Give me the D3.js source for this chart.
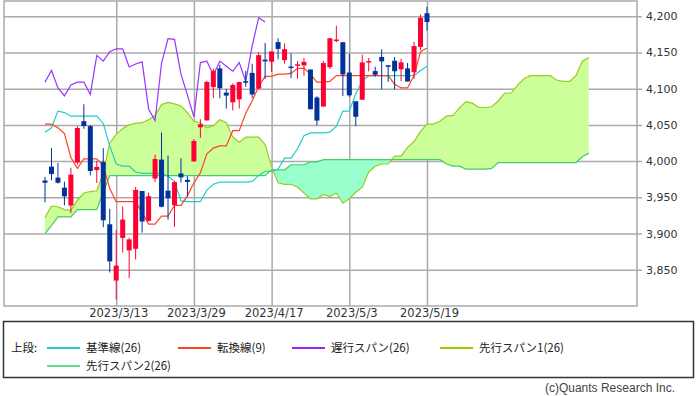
<!DOCTYPE html>
<html>
<head>
<meta charset="utf-8">
<script src="https://cdnjs.cloudflare.com/ajax/libs/d3/7.8.5/d3.min.js"></script>
<style>
  body { margin: 0; background: #fff; }
</style>
</head>
<body>
<svg id="chart" width="697" height="396"></svg>
<script>
// daily bars, 2023/2/24 - 2023/5/19
const dates = ["2023/2/24","2023/2/27","2023/2/28","2023/3/1","2023/3/2","2023/3/3","2023/3/6","2023/3/7","2023/3/8","2023/3/9",
  "2023/3/10","2023/3/13","2023/3/14","2023/3/15","2023/3/16","2023/3/17","2023/3/20","2023/3/21","2023/3/22","2023/3/23",
  "2023/3/24","2023/3/27","2023/3/28","2023/3/29","2023/3/30","2023/3/31","2023/4/3","2023/4/4","2023/4/5","2023/4/6",
  "2023/4/10","2023/4/11","2023/4/12","2023/4/13","2023/4/14","2023/4/17","2023/4/18","2023/4/19","2023/4/20","2023/4/21",
  "2023/4/24","2023/4/25","2023/4/26","2023/4/27","2023/4/28","2023/5/1","2023/5/2","2023/5/3","2023/5/4","2023/5/5",
  "2023/5/8","2023/5/9","2023/5/10","2023/5/11","2023/5/12","2023/5/15","2023/5/16","2023/5/17","2023/5/18","2023/5/19"];

const opens = [3973.24,3992.36,3977.19,3963.34,3938.68,3998.02,4055.15,4048.26,3987.55,3998.66,
  3912.77,3835.12,3894.01,3876.74,3878.93,3958.69,3917.47,3975.89,4002.04,3959.21,
  3939.21,3982.93,3974.13,3999.53,4046.74,4056.18,4102.20,4128.03,4094.50,4081.15,
  4085.20,4110.29,4121.72,4100.04,4140.11,4137.17,4164.26,4139.33,4130.48,4132.14,
  4132.07,4126.43,4087.78,4075.29,4129.63,4166.79,4164.10,4122.25,4082.61,4084.73,
  4136.98,4124.25,4143.74,4132.24,4138.54,4126.65,4127.95,4122.85,4157.68,4204.15];
const highs = [3978.25,4018.05,3997.50,3971.73,3990.84,4048.29,4078.49,4050.00,4000.41,4017.81,
  3934.05,3905.05,3937.29,3894.26,3964.46,3958.91,3956.62,4009.08,4039.49,4007.66,
  3972.74,4003.83,3979.20,4030.59,4057.85,4110.75,4127.66,4133.13,4099.69,4107.32,
  4109.50,4124.26,4134.37,4150.26,4163.19,4151.72,4169.48,4162.57,4148.57,4138.02,
  4142.41,4126.43,4089.67,4138.24,4170.06,4186.92,4164.10,4148.30,4082.61,4147.02,
  4142.30,4130.35,4154.28,4132.80,4143.74,4141.25,4135.54,4164.67,4202.20,4212.91];
const lows = [3943.08,3973.55,3968.98,3939.05,3928.16,3995.17,4044.61,3980.31,3969.76,3908.70,
  3846.32,3808.86,3873.63,3838.24,3864.11,3901.27,3916.89,3971.19,3936.17,3919.05,
  3909.16,3970.49,3951.53,3999.53,4032.10,4056.18,4086.87,4086.87,4072.56,4069.84,
  4072.55,4102.61,4086.94,4099.40,4113.20,4123.18,4140.36,4134.49,4114.57,4113.86,
  4117.77,4071.38,4049.35,4075.29,4127.18,4164.12,4089.72,4088.86,4048.28,4084.73,
  4123.81,4116.65,4098.92,4109.29,4099.12,4110.27,4109.86,4113.62,4153.14,4180.20];
const closes = [3970.04,3982.24,3970.15,3951.39,3981.35,4045.64,4048.42,3986.37,3992.01,3918.32,
  3861.59,3855.76,3919.29,3891.93,3960.28,3916.64,3951.57,4002.87,3936.97,3948.72,
  3970.99,3977.53,3971.27,4027.81,4050.83,4109.31,4124.51,4100.60,4090.38,4105.02,
  4109.11,4108.94,4091.95,4146.22,4137.64,4151.32,4154.87,4154.52,4129.79,4133.52,
  4137.04,4071.63,4055.99,4135.35,4169.48,4167.87,4119.58,4090.75,4061.22,4136.25,
  4138.12,4119.17,4137.64,4130.62,4124.08,4136.28,4109.90,4158.77,4198.05,4191.98];

// 基準線(26)
const kijun = [4040,4046,4069,4067,4062,4062,4062,4062,4062,4052,
  4021,3996,3993,3993,3985,3983,3983,3983,3983,3979,
  3972,3945,3944,3944,3944,3960,3968,3971,3971,3971,
  3971,3971,3972,3980,3986,3986,3989,4004,4004,4017,
  4035,4039,4039,4039,4040,4048,4069,4069,4093,4110,
  4118,4118,4118,4118,4118,4118,4118,4118,4125,4131];
// 転換線(9)
const tenkan = [4051,4051,4046,4038,4005,3990,4003,4003,4003,3994,
  3962,3944,3944,3944,3944,3929,3913,3913,3924,3924,
  3939,3939,3952,3970,3984,4010,4018,4021,4021,4042,
  4042,4066,4083,4103,4117,4117,4120,4120,4121,4128,
  4128,4120,4109,4109,4110,4118,4118,4118,4118,4118,
  4118,4118,4118,4118,4106,4101,4101,4118,4151,4156];
// 遅行スパン(26), from the first bar
const chikou = [4109,4125,4101,4090,4105,4109,4109,4092,4146,4138,
  4151,4155,4155,4130,4134,4137,4072,4056,4135,4169,
  4168,4120,4091,4061,4136,4138,4119,4138,4131,4124,
  4136,4110,4159,4198,4192];
// 先行スパン1(26), 85 points (runs 25 bars past the last one)
const span1 = [3922,3938,3937,3933,3932,3946,3956,3958,3959,3984,
  4025,4037,4045,4050,4052,4053,4057,4063,4078,4081,
  4079,4076,4067,4055,4053,4046,4049,4057,4053,4033,
  4026,4033,4033,4033,4023,3992,3970,3968,3968,3964,
  3956,3948,3948,3954,3951,3956,3942,3948,3957,3964,
  3985,3993,3996,3996,4007,4007,4019,4027,4041,4051,
  4051,4055,4062,4063,4073,4082,4080,4074,4074,4075,
  4083,4094,4094,4105,4114,4118,4118,4118,4118,4112,
  4110,4110,4118,4138,4143];
// 先行スパン2(26)
const span2 = [3900,3911,3923,3923,3923,3933,3933,3933,3933,3957,
  3980,3980,3980,3980,3980,3980,3980,3980,3980,3980,
  3980,3980,3980,3980,3980,3980,3980,3980,3980,3980,
  3980,3980,3980,3980,3980,3988,3988,3988,3995,3995,
  3995,3999,3999,4002,4002,4002,4002,4002,4002,4002,
  4002,4002,4002,4002,4002,4002,4002,4002,4002,4002,
  4002,4002,3996,3993,3993,3989,3989,3989,3989,3990,
  3998,3998,3998,3998,3998,3998,3998,3998,3998,3998,
  3998,3998,3998,4006,4011];

const yTicks = [3850, 3900, 3950, 4000, 4050, 4100, 4150, 4200];
const tickDates = ["2023/3/13", "2023/3/29", "2023/4/17", "2023/5/3", "2023/5/19"];

const legendItems = [
  { name: "基準線(26)", color: "#22cccc", row: 0, x: 47 },
  { name: "転換線(9)", color: "#ff4422", row: 0, x: 178 },
  { name: "遅行スパン(26)", color: "#9922ff", row: 0, x: 292 },
  { name: "先行スパン1(26)", color: "#99cc00", row: 0, x: 440 },
  { name: "先行スパン2(26)", color: "#66dd88", row: 1, x: 47 }
];

const plot = { left: 4, right: 637, top: 1, bottom: 306 };
const upColor = "#ff0033", downColor = "#003399";
const gridColor = "#ababab";
const font = "'DejaVu Sans', sans-serif";
const jpFont = "'Noto Sans CJK JP', sans-serif";

const svg = d3.select("#chart");

const x = d3.scaleLinear().domain([0, dates.length - 1]).range([45, 427]);
const y = d3.scaleLinear().domain([3800, 4221]).range([plot.bottom, plot.top]);

// grid + labels
svg.append("g")
  .attr("transform", "translate(642,0)")
  .call(d3.axisRight(y).tickValues(yTicks).tickFormat(d3.format(","))
    .tickSizeInner(-(642 - plot.left)).tickSizeOuter(0).tickPadding(4))
  .call(g => g.select(".domain").remove())
  .call(g => g.selectAll("line").attr("stroke", gridColor).attr("stroke-width", 1.5))
  .call(g => g.selectAll("text").attr("fill", "#333"))
  .attr("font-family", font)
  .attr("font-size", 11);

const tickIdx = tickDates.map(d => dates.indexOf(d));
svg.append("g")
  .attr("transform", "translate(0," + plot.bottom + ")")
  .call(d3.axisBottom(x).tickValues(tickIdx).tickFormat(i => dates[i])
    .tickSizeInner(-(plot.bottom - plot.top)).tickSizeOuter(0).tickPadding(3))
  .call(g => g.select(".domain").remove())
  .call(g => g.selectAll("line").attr("stroke", gridColor).attr("stroke-width", 1.5))
  .call(g => g.selectAll("text").attr("fill", "#333").attr("dx", 2))
  .attr("font-family", font)
  .attr("font-size", 11.5);

// cloud
const cloud = span1.map((v, i) => ({ i: i, a: v, b: span2[i] }));
const defs = svg.append("defs");
defs.append("clipPath").attr("id", "above").append("path")
  .attr("d", d3.area().x(d => x(d.i)).y0(plot.top).y1(d => y(d.b))(cloud));
defs.append("clipPath").attr("id", "below").append("path")
  .attr("d", d3.area().x(d => x(d.i)).y0(plot.bottom).y1(d => y(d.b))(cloud));

const band = d3.area().x(d => x(d.i)).y0(d => y(d.a)).y1(d => y(d.b));
svg.append("path").attr("clip-path", "url(#above)").attr("d", band(cloud)).attr("fill", "#ccff99");
svg.append("path").attr("clip-path", "url(#below)").attr("d", band(cloud)).attr("fill", "#99ffcc");

const line = d3.line().x((d, i) => x(i)).y(d => y(d));
function addLine(values, color) {
  svg.append("path")
    .datum(values)
    .attr("d", line)
    .attr("fill", "none")
    .attr("stroke", color)
    .attr("stroke-width", 1.2);
}
addLine(span1, "#99cc22");
addLine(span2, "#44cc66");
addLine(kijun, "#22cccc");
addLine(tenkan, "#ff4422");
addLine(chikou, "#9933ff");

// candles
const bars = svg.append("g").selectAll("g")
  .data(dates.map((d, i) => ({ i: i, o: opens[i], h: highs[i], l: lows[i], c: closes[i] })))
  .enter().append("g");

bars.append("line")
  .attr("x1", d => x(d.i)).attr("x2", d => x(d.i))
  .attr("y1", d => y(d.h)).attr("y2", d => y(d.l))
  .attr("stroke", d => d.c >= d.o ? upColor : downColor)
  .attr("stroke-width", 1);

bars.append("rect")
  .attr("x", d => x(d.i) - 2.5)
  .attr("width", 5)
  .attr("y", d => y(Math.max(d.o, d.c)))
  .attr("height", d => Math.max(1.5, Math.abs(y(d.o) - y(d.c))))
  .attr("fill", d => d.c >= d.o ? upColor : downColor);

// frame
svg.append("rect")
  .attr("x", plot.left).attr("y", plot.top)
  .attr("width", plot.right - plot.left).attr("height", plot.bottom - plot.top)
  .attr("fill", "none").attr("stroke", gridColor).attr("stroke-width", 1.5);

// legend
svg.append("rect")
  .attr("x", 3.5).attr("y", 321.5).attr("width", 690).attr("height", 56)
  .attr("fill", "#fff").attr("stroke", "#333").attr("stroke-width", 1.5);

svg.append("text")
  .attr("x", 11).attr("y", 348).attr("dy", "0.35em")
  .attr("font-family", jpFont).attr("font-size", 11.5).attr("fill", "#222")
  .text("上段:");

const items = svg.append("g").selectAll("g")
  .data(legendItems).enter().append("g")
  .attr("transform", d => "translate(" + d.x + "," + (348 + d.row * 18) + ")");

items.append("line")
  .attr("x1", 0).attr("x2", 33)
  .attr("stroke", d => d.color).attr("stroke-width", 2);

items.append("text")
  .attr("x", 39).attr("dy", "0.35em")
  .attr("font-family", jpFont).attr("font-size", 11.5).attr("fill", "#222")
  .text(d => d.name);

svg.append("text")
  .attr("x", 675).attr("y", 388).attr("dy", "0.35em")
  .attr("text-anchor", "end")
  .attr("font-family", "'Liberation Sans', Arial, sans-serif").attr("font-size", 12).attr("fill", "#444")
  .text("(c)Quants Research Inc.");
</script>
</body>
</html>
